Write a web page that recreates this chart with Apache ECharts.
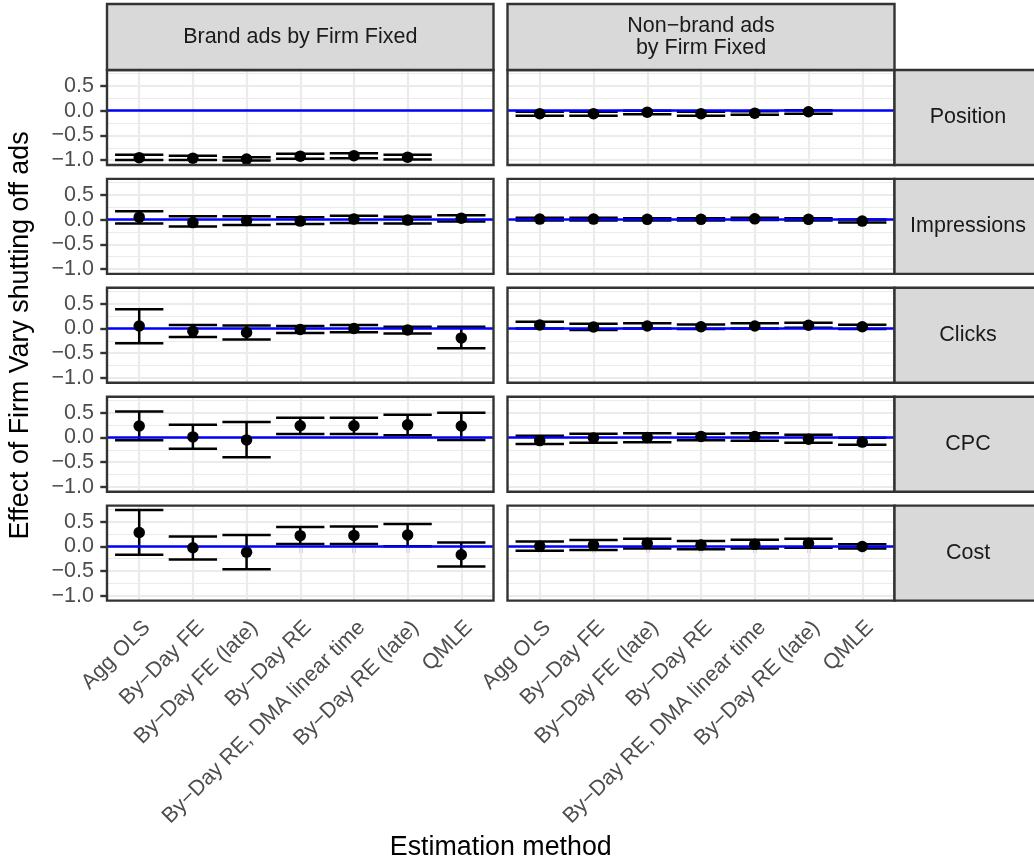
<!DOCTYPE html>
<html>
<head>
<meta charset="utf-8">
<script src="https://cdn.jsdelivr.net/npm/echarts@6.0.0/dist/echarts.min.js"></script>
<style>
html,body{margin:0;padding:0;background:#fff;}
#chart{width:1034px;height:863px;}
</style>
</head>
<body>
<div id="chart"></div>
<script>
// ---------- data ----------
const categories = ['Agg OLS', 'By\u2212Day FE', 'By\u2212Day FE (late)', 'By\u2212Day RE',
  'By\u2212Day RE, DMA linear time', 'By\u2212Day RE (late)', 'QMLE'];
const columnLabels = ['Brand ads by Firm Fixed', 'Non\u2212brand ads\nby Firm Fixed'];
const rowLabels = ['Position', 'Impressions', 'Clicks', 'CPC', 'Cost'];
const yTickValues = [-1, -0.5, 0, 0.5];
const yTickLabels = ['\u22121.0', '\u22120.5', '0.0', '0.5'];
const yMinorValues = [-0.75, -0.25, 0.25, 0.75];
const refLineValue = 0;

// Brand ads
const brandPositionEst  = [-0.95, -0.96, -0.98, -0.92, -0.91, -0.94, null];
const brandPositionLow  = [-1.00, -1.00, -1.01, -0.97, -0.96, -0.99, null];
const brandPositionHigh = [-0.89, -0.91, -0.94, -0.87, -0.86, -0.89, null];

const brandImpressionsEst  = [0.05, -0.06, -0.02, -0.03, 0.01, -0.01, 0.03];
const brandImpressionsLow  = [-0.08, -0.14, -0.11, -0.09, -0.07, -0.08, -0.04];
const brandImpressionsHigh = [0.17, 0.07, 0.07, 0.05, 0.08, 0.06, 0.09];

const brandClicksEst  = [0.05, -0.055, -0.08, -0.02, 0.0, -0.03, -0.19];
const brandClicksLow  = [-0.30, -0.17, -0.22, -0.09, -0.075, -0.10, -0.40];
const brandClicksHigh = [0.39, 0.07, 0.06, 0.05, 0.07, 0.035, 0.035];

const brandCpcEst  = [0.23, 0.01, -0.05, 0.235, 0.235, 0.255, 0.23];
const brandCpcLow  = [-0.06, -0.23, -0.40, 0.07, 0.07, 0.045, -0.055];
const brandCpcHigh = [0.525, 0.255, 0.31, 0.40, 0.40, 0.46, 0.50];

const brandCostEst  = [0.28, -0.03, -0.12, 0.215, 0.22, 0.23, -0.17];
const brandCostLow  = [-0.17, -0.265, -0.465, 0.045, 0.045, 0.0, -0.41];
const brandCostHigh = [0.737, 0.20, 0.23, 0.39, 0.40, 0.45, 0.075];

// Non-brand ads
const nonbrandPositionEst  = [-0.06, -0.06, -0.03, -0.06, -0.05, -0.02, null];
const nonbrandPositionLow  = [-0.10, -0.10, -0.07, -0.10, -0.08, -0.06, null];
const nonbrandPositionHigh = [-0.02, -0.02, 0.00, -0.02, -0.01, 0.01, null];

const nonbrandImpressionsEst  = [0.01, 0.01, 0.005, 0.005, 0.015, 0.005, -0.03];
const nonbrandImpressionsLow  = [-0.02, -0.02, -0.02, -0.02, -0.01, -0.02, -0.06];
const nonbrandImpressionsHigh = [0.04, 0.04, 0.03, 0.03, 0.04, 0.03, 0.0];

const nonbrandClicksEst  = [0.07, 0.03, 0.05, 0.035, 0.05, 0.065, 0.035];
const nonbrandClicksLow  = [0.0, -0.03, 0.0, -0.01, 0.0, 0.015, -0.01];
const nonbrandClicksHigh = [0.135, 0.095, 0.105, 0.08, 0.105, 0.115, 0.075];

const nonbrandCpcEst  = [-0.065, -0.01, 0.0, 0.02, 0.02, -0.035, -0.095];
const nonbrandCpcLow  = [-0.135, -0.11, -0.10, -0.06, -0.07, -0.11, -0.15];
const nonbrandCpcHigh = [0.035, 0.075, 0.085, 0.075, 0.085, 0.055, -0.005];

const nonbrandCostEst  = [0.0, 0.025, 0.06, 0.025, 0.04, 0.06, -0.005];
const nonbrandCostLow  = [-0.09, -0.075, -0.045, -0.06, -0.045, -0.03, -0.045];
const nonbrandCostHigh = [0.095, 0.13, 0.155, 0.105, 0.135, 0.155, 0.04];

const panels = [
  [[brandPositionEst, brandPositionLow, brandPositionHigh], [nonbrandPositionEst, nonbrandPositionLow, nonbrandPositionHigh]],
  [[brandImpressionsEst, brandImpressionsLow, brandImpressionsHigh], [nonbrandImpressionsEst, nonbrandImpressionsLow, nonbrandImpressionsHigh]],
  [[brandClicksEst, brandClicksLow, brandClicksHigh], [nonbrandClicksEst, nonbrandClicksLow, nonbrandClicksHigh]],
  [[brandCpcEst, brandCpcLow, brandCpcHigh], [nonbrandCpcEst, nonbrandCpcLow, nonbrandCpcHigh]],
  [[brandCostEst, brandCostLow, brandCostHigh], [nonbrandCostEst, nonbrandCostLow, nonbrandCostHigh]]
];

// ---------- layout ----------
const FONT = '"Liberation Sans", Arial, Helvetica, sans-serif';
const colLeft = [107, 507.5];
const colWidth = [386.5, 387];
const rowTop = [70, 178.9, 287.8, 396.7, 505.6];
const rowHeight = 95;
const yMin = -1.099, yMax = 0.824;
const xMin = 0.4, xMax = 7.6;
const catPos = categories.map((c, i) => i + 1);

const grids = [], xAxes = [], yAxes = [], series = [], graphics = [];

function yLabel(v) {
  const k = yTickValues.findIndex(t => Math.abs(t - v) < 1e-9);
  return k >= 0 ? yTickLabels[k] : '';
}

for (let r = 0; r < rowLabels.length; r++) {
  for (let c = 0; c < 2; c++) {
    const idx = grids.length;
    grids.push({left: colLeft[c], top: rowTop[r], width: colWidth[c], height: rowHeight,
      show: false, containLabel: false, outerBoundsMode: 'none'});
    const bottom = r === rowLabels.length - 1;
    xAxes.push({
      gridIndex: idx, type: 'value', min: xMin, max: xMax,
      axisLine: {show: false}, splitLine: {show: false},
      axisTick: {show: bottom, customValues: catPos, length: 6.7,
        lineStyle: {color: '#333333', width: 2.4}},
      axisLabel: {show: bottom, customValues: catPos, rotate: 45,
        formatter: v => categories[Math.round(v) - 1] || '',
        align: 'right', verticalAlign: 'top', margin: 16,
        fontSize: 21.5, fontFamily: FONT, color: '#4D4D4D'}
    });
    yAxes.push({
      gridIndex: idx, type: 'value', min: yMin, max: yMax,
      axisLine: {show: false}, splitLine: {show: false},
      axisTick: {show: c === 0, customValues: yTickValues, length: 6.7,
        lineStyle: {color: '#333333', width: 2.4}},
      axisLabel: {show: c === 0, customValues: yTickValues, formatter: yLabel,
        margin: 13, fontSize: 21.5, fontFamily: FONT, color: '#4D4D4D'}
    });

    const [est, low, high] = panels[r][c];
    const pts = [], bars = [];
    categories.forEach((cat, i) => {
      if (est[i] != null) pts.push([i + 1, est[i]]);
      if (low[i] != null && high[i] != null) bars.push([i + 1, low[i], high[i]]);
    });

    const gridLines = [];
    yTickValues.forEach(v => gridLines.push({yAxis: v, lineStyle: {color: '#EBEBEB', width: 2.2, type: 'solid'}}));
    yMinorValues.forEach(v => gridLines.push({yAxis: v, lineStyle: {color: '#EBEBEB', width: 1.1, type: 'solid'}}));
    catPos.forEach(v => gridLines.push({xAxis: v, lineStyle: {color: '#EBEBEB', width: 2.2, type: 'solid'}}));

    series.push({
      type: 'custom', xAxisIndex: idx, yAxisIndex: idx, z: 2, silent: true,
      data: bars,
      renderItem: function (params, api) {
        const x = api.value(0), lo = api.value(1), hi = api.value(2);
        const pLo = api.coord([x, lo]), pHi = api.coord([x, hi]);
        const w = api.size([0.9, 0])[0];
        const st = {stroke: '#000000', lineWidth: 2.5, fill: null};
        return {type: 'group', children: [
          {type: 'line', shape: {x1: pLo[0], y1: pLo[1], x2: pHi[0], y2: pHi[1]}, style: st},
          {type: 'line', shape: {x1: pHi[0] - w / 2, y1: pHi[1], x2: pHi[0] + w / 2, y2: pHi[1]}, style: st},
          {type: 'line', shape: {x1: pLo[0] - w / 2, y1: pLo[1], x2: pLo[0] + w / 2, y2: pLo[1]}, style: st}
        ]};
      },
      markLine: {silent: true, symbol: 'none', z: 3, animation: false, label: {show: false},
        data: [{yAxis: refLineValue, lineStyle: {color: '#0000FF', width: 2.6, type: 'solid'}}]}
    });
    series.push({
      type: 'scatter', xAxisIndex: idx, yAxisIndex: idx, z: 4, silent: true,
      data: pts, symbol: 'circle', symbolSize: 11.5,
      itemStyle: {color: '#000000', opacity: 1},
      markLine: {silent: true, symbol: 'none', z: 1, animation: false, label: {show: false},
        data: gridLines}
    });

    // panel border
    graphics.push({type: 'rect', z: 100, silent: true,
      shape: {x: colLeft[c], y: rowTop[r], width: colWidth[c], height: rowHeight},
      style: {fill: null, stroke: '#333333', lineWidth: 2.4}});
  }
  // right strip
  graphics.push({type: 'rect', z: 100, silent: true,
    shape: {x: colLeft[1] + colWidth[1], y: rowTop[r], width: 150, height: rowHeight},
    style: {fill: '#D9D9D9', stroke: '#333333', lineWidth: 2.4}});
  graphics.push({type: 'text', z: 101, silent: true,
    style: {text: rowLabels[r], x: 968, y: rowTop[r] + rowHeight / 2,
      fontSize: 21.5, fontFamily: FONT, fill: '#1A1A1A', align: 'center', verticalAlign: 'middle'}});
}
// top strips
for (let c = 0; c < 2; c++) {
  graphics.push({type: 'rect', z: 100, silent: true,
    shape: {x: colLeft[c], y: 4, width: colWidth[c], height: 66},
    style: {fill: '#D9D9D9', stroke: '#333333', lineWidth: 2.4}});
  graphics.push({type: 'text', z: 101, silent: true,
    style: {text: columnLabels[c], x: colLeft[c] + colWidth[c] / 2, y: 37,
      fontSize: 21.5, lineHeight: 21.5, fontFamily: FONT, fill: '#1A1A1A',
      align: 'center', verticalAlign: 'middle'}});
}
// axis titles
graphics.push({type: 'text', z: 101, silent: true, x: 21, y: 335.5, rotation: Math.PI / 2,
  style: {text: 'Effect of Firm Vary shutting off ads', x: 0, y: 0, fontSize: 26.8, fontFamily: FONT,
    fill: '#000000', align: 'center', verticalAlign: 'middle'}});
graphics.push({type: 'text', z: 101, silent: true,
  style: {text: 'Estimation method', x: 500.75, y: 848, fontSize: 26.8, fontFamily: FONT,
    fill: '#000000', align: 'center', verticalAlign: 'middle'}});

const chart = echarts.init(document.getElementById('chart'), null, {renderer: 'canvas'});
chart.setOption({
  animation: false,
  backgroundColor: '#ffffff',
  grid: grids,
  xAxis: xAxes,
  yAxis: yAxes,
  series: series,
  graphic: {elements: graphics}
});
</script>
</body>
</html>
